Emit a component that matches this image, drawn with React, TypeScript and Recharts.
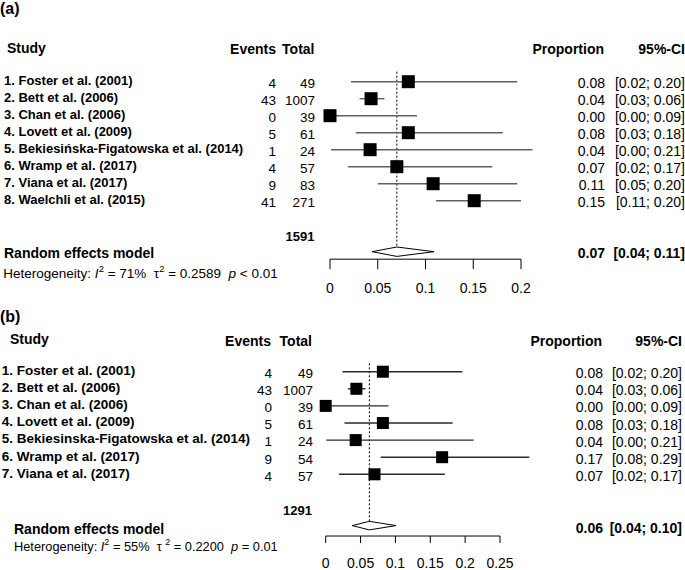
import React from 'react';
import { ComposedChart, XAxis, YAxis, Scatter, ErrorBar, ReferenceLine } from 'recharts';

const FONT = "'Liberation Sans', Arial, Helvetica, sans-serif";

// ---------- Panel (a) data ----------
const studiesA = [
  '1. Foster et al. (2001)',
  '2. Bett et al. (2006)',
  '3. Chan et al. (2006)',
  '4. Lovett et al. (2009)',
  '5. Bekiesińska-Figatowska et al. (2014)',
  '6. Wramp et al. (2017)',
  '7. Viana et al. (2017)',
  '8. Waelchli et al. (2015)',
];
const eventsA = [4, 43, 0, 5, 1, 4, 9, 41];
const totalsA = [49, 1007, 39, 61, 24, 57, 83, 271];
const propA = [0.082, 0.043, 0.0, 0.082, 0.042, 0.07, 0.108, 0.151];
const loA = [0.022, 0.031, 0.0, 0.027, 0.001, 0.019, 0.05, 0.111];
const hiA = [0.196, 0.057, 0.091, 0.181, 0.212, 0.17, 0.196, 0.2];
const propTxtA = ['0.08', '0.04', '0.00', '0.08', '0.04', '0.07', '0.11', '0.15'];
const ciTxtA = ['[0.02; 0.20]', '[0.03; 0.06]', '[0.00; 0.09]', '[0.03; 0.18]', '[0.00; 0.21]', '[0.02; 0.17]', '[0.05; 0.20]', '[0.11; 0.20]'];
const pooledA = [0.044, 0.07, 0.109]; // lower, estimate, upper
const pooledTxtA = ['0.07', '[0.04; 0.11]'];
const totalNA = 1591;
const hetA = ['71%', '0.2589', '< 0.01'];
const xTicksA = [0, 0.05, 0.1, 0.15, 0.2];

// ---------- Panel (b) data ----------
const studiesB = [
  '1. Foster et al. (2001)',
  '2. Bett et al. (2006)',
  '3. Chan et al. (2006)',
  '4. Lovett et al. (2009)',
  '5. Bekiesinska-Figatowska et al. (2014)',
  '6. Wramp et al. (2017)',
  '7. Viana et al. (2017)',
];
const eventsB = [4, 43, 0, 5, 1, 9, 4];
const totalsB = [49, 1007, 39, 61, 24, 54, 57];
const propB = [0.082, 0.044, 0.0, 0.082, 0.043, 0.167, 0.07];
const loB = [0.024, 0.032, 0.0, 0.027, 0.001, 0.079, 0.019];
const hiB = [0.196, 0.057, 0.09, 0.182, 0.212, 0.292, 0.171];
const propTxtB = ['0.08', '0.04', '0.00', '0.08', '0.04', '0.17', '0.07'];
const ciTxtB = ['[0.02; 0.20]', '[0.03; 0.06]', '[0.00; 0.09]', '[0.03; 0.18]', '[0.00; 0.21]', '[0.08; 0.29]', '[0.02; 0.17]'];
const pooledB = [0.038, 0.0626, 0.101];
const pooledTxtB = ['0.06', '[0.04; 0.10]'];
const totalNB = 1291;
const hetB = ['55%', '0.2200', '= 0.01'];
const xTicksB = [0, 0.05, 0.1, 0.15, 0.2, 0.25];

type Layout = {
  chartH: number; row1Y: number; rowStep: number; rMin: number; rMax: number;
  x0: number; ppu: number; xMin: number; xMax: number;
  labelRow: number; headerRow: number; totalRow: number; pooledRow: number;
  diamondH: number; refTop: number; refBottom: number;
  tickSize: number; tickMargin: number; boxSize: number; ciColor: string;
  studyX: number; studyHeaderX: number; eventsX: number; totalX: number;
  eventsHeaderX: number; totalHeaderX: number; totalNX: number;
  pooledX: number; pooledDy: number; pooledRDy: number; hetDy: number;
  hetX: number; hetSize: number; tauSep: string;
  propX: number; ciX: number; propHeaderX: number; ciHeaderX: number;
  labelSize: number; numSize: number;
};

const layoutA: Layout = {
  chartH: 298, row1Y: 81.7, rowStep: 17, rMin: -3.5, rMax: 11.44,
  x0: 330, ppu: 955, xMin: -0.0105, xMax: 0.22,
  labelRow: -3.3, headerRow: -1, totalRow: 10.12, pooledRow: 11,
  diamondH: 0.276, refTop: 0.41, refBottom: 10.72,
  tickSize: 10, tickMargin: 14, boxSize: 13, ciColor: '#606060',
  studyX: 4, studyHeaderX: 7, eventsX: 276, totalX: 315,
  eventsHeaderX: 276, totalHeaderX: 314.5, totalNX: 314.5,
  pooledX: 4, pooledDy: 1.5, pooledRDy: 1, hetDy: 21.6,
  hetX: 3.3, hetSize: 13.5, tauSep: '',
  propX: 605, ciX: 685, propHeaderX: 604, ciHeaderX: 685,
  labelSize: 13, numSize: 13.5,
};

const layoutB: Layout = {
  chartH: 272, row1Y: 73.7, rowStep: 17.1, rMin: -3, rMax: 10.61,
  x0: 325.7, ppu: 697.2, xMin: -0.012, xMax: 0.3,
  labelRow: -2.27, headerRow: -0.9, totalRow: 9.13, pooledRow: 10,
  diamondH: 0.25, refTop: 0.51, refBottom: 9.75,
  tickSize: 7, tickMargin: 15, boxSize: 12, ciColor: '#2a2a2a',
  studyX: 1.7, studyHeaderX: 10, eventsX: 272, totalX: 313,
  eventsHeaderX: 271, totalHeaderX: 312, totalNX: 312,
  pooledX: 14, pooledDy: 3.7, pooledRDy: 2, hetDy: 20.4,
  hetX: 14, hetSize: 12.8, tauSep: ' ',
  propX: 603, ciX: 682, propHeaderX: 602, ciHeaderX: 682,
  labelSize: 13.5, numSize: 13.5,
};

type PanelData = {
  tag: string; studies: string[]; events: number[]; totals: number[];
  prop: number[]; lo: number[]; hi: number[]; propTxt: string[]; ciTxt: string[];
  pooled: number[]; pooledTxt: string[]; totalN: number; het: string[]; xTicks: number[];
};

const dataA: PanelData = {
  tag: '(a)', studies: studiesA, events: eventsA, totals: totalsA, prop: propA, lo: loA, hi: hiA,
  propTxt: propTxtA, ciTxt: ciTxtA, pooled: pooledA, pooledTxt: pooledTxtA, totalN: totalNA, het: hetA, xTicks: xTicksA,
};
const dataB: PanelData = {
  tag: '(b)', studies: studiesB, events: eventsB, totals: totalsB, prop: propB, lo: loB, hi: hiB,
  propTxt: propTxtB, ciTxt: ciTxtB, pooled: pooledB, pooledTxt: pooledTxtB, totalN: totalNB, het: hetB, xTicks: xTicksB,
};

const near = (a: number, b: number) => Math.abs(a - b) < 1e-6;

function LeftTick(props: any) {
  const { y, payload, d, L } = props as { y: number; payload: any; d: PanelData; L: Layout };
  const v = payload.value;
  const common = { fontFamily: FONT, fill: '#000' };
  if (near(v, L.labelRow)) {
    return <text x={0} y={y} dy="0.36em" fontSize={16} fontWeight="bold" {...common}>{d.tag}</text>;
  }
  if (near(v, L.headerRow)) {
    return (
      <g>
        <text x={L.studyHeaderX} y={y} dy="0.36em" fontSize={14} fontWeight="bold" {...common}>Study</text>
        <text x={L.eventsHeaderX} y={y + 1.5} dy="0.36em" fontSize={14} fontWeight="bold" textAnchor="end" {...common}>Events</text>
        <text x={L.totalHeaderX} y={y + 1.5} dy="0.36em" fontSize={14} fontWeight="bold" textAnchor="end" {...common}>Total</text>
      </g>
    );
  }
  if (near(v, L.totalRow)) {
    return <text x={L.totalNX} y={y} dy="0.36em" fontSize={13} fontWeight="bold" textAnchor="end" {...common}>{d.totalN}</text>;
  }
  if (near(v, L.pooledRow)) {
    const hy = y + L.hetDy;
    const fs = L.hetSize;
    const sup = fs * 0.7;
    return (
      <g>
        <text x={L.pooledX} y={y + L.pooledDy} dy="0.36em" fontSize={14} fontWeight="bold" {...common}>Random effects model</text>
        <text x={L.hetX} y={hy} dy="0.36em" fontSize={fs} {...common} style={{ whiteSpace: 'pre' }}>
          <tspan>{'Heterogeneity: '}</tspan>
          <tspan fontStyle="italic">I</tspan>
          <tspan dy={-6} fontSize={sup}>2</tspan>
          <tspan dy={6}>{' = ' + d.het[0] + '  τ' + L.tauSep}</tspan>
          <tspan dy={-6} fontSize={sup}>2</tspan>
          <tspan dy={6}>{' = ' + d.het[1] + '  '}</tspan>
          <tspan fontStyle="italic">p</tspan>
          <tspan>{' ' + d.het[2]}</tspan>
        </text>
      </g>
    );
  }
  const i = Math.round(v) - 1;
  if (i < 0 || i >= d.studies.length) return <g />;
  return (
    <g>
      <text x={L.studyX} y={y - 1.5} dy="0.36em" fontSize={L.labelSize} fontWeight="bold" {...common}>{d.studies[i]}</text>
      <text x={L.eventsX} y={y + 1.5} dy="0.36em" fontSize={L.numSize} textAnchor="end" {...common}>{d.events[i]}</text>
      <text x={L.totalX} y={y + 1.5} dy="0.36em" fontSize={L.numSize} textAnchor="end" {...common}>{d.totals[i]}</text>
    </g>
  );
}

function RightTick(props: any) {
  const { y, payload, d, L } = props as { y: number; payload: any; d: PanelData; L: Layout };
  const v = payload.value;
  const common = { fontFamily: FONT, fill: '#000' };
  if (near(v, L.headerRow)) {
    return (
      <g>
        <text x={L.propHeaderX} y={y + 1.5} dy="0.36em" fontSize={14} fontWeight="bold" textAnchor="end" {...common}>Proportion</text>
        <text x={L.ciHeaderX} y={y + 1.5} dy="0.36em" fontSize={14} fontWeight="bold" textAnchor="end" {...common}>95%-CI</text>
      </g>
    );
  }
  if (near(v, L.pooledRow)) {
    return (
      <g>
        <text x={L.propX} y={y + L.pooledRDy} dy="0.36em" fontSize={14} fontWeight="bold" textAnchor="end" {...common}>{d.pooledTxt[0]}</text>
        <text x={L.ciX} y={y + L.pooledRDy} dy="0.36em" fontSize={14} fontWeight="bold" textAnchor="end" {...common}>{d.pooledTxt[1]}</text>
      </g>
    );
  }
  const i = Math.round(v) - 1;
  if (i < 0 || i >= d.studies.length) return <g />;
  return (
    <g>
      <text x={L.propX} y={y + 1.5} dy="0.36em" fontSize={14} textAnchor="end" {...common}>{d.propTxt[i]}</text>
      <text x={L.ciX} y={y + 1.5} dy="0.36em" fontSize={14} textAnchor="end" {...common}>{d.ciTxt[i]}</text>
    </g>
  );
}

function Panel({ d, L }: { d: PanelData; L: Layout }) {
  const marginTop = L.row1Y + (L.rMin - 1) * L.rowStep;
  const plotBottom = L.row1Y + (L.rMax - 1) * L.rowStep;
  const xAxisH = L.chartH - plotBottom;
  const plotLeft = L.x0 + L.xMin * L.ppu;
  const plotRight = L.x0 + L.xMax * L.ppu;

  const rows = d.studies.map((_, i) => ({
    x: d.prop[i],
    y: i + 1,
    err: [d.prop[i] - d.lo[i], d.hi[i] - d.prop[i]],
  }));
  const [pl, pe, ph] = d.pooled;
  const r = L.pooledRow;
  const diamond = [
    { x: pl, y: r }, { x: pe, y: r - L.diamondH }, { x: ph, y: r }, { x: pe, y: r + L.diamondH }, { x: pl, y: r },
  ];
  const studyRows = d.studies.map((_, i) => i + 1);
  const leftTicks = [L.labelRow, L.headerRow, ...studyRows, L.totalRow, L.pooledRow];
  const rightTicks = [L.headerRow, ...studyRows, L.pooledRow];
  const xEnd = d.xTicks[d.xTicks.length - 1];
  const bs = L.boxSize;

  return (
    <ComposedChart width={685} height={L.chartH} margin={{ top: marginTop, right: 0, bottom: 0, left: 0 }}>
      <XAxis
        xAxisId={0}
        type="number"
        dataKey="x"
        domain={[L.xMin, L.xMax]}
        allowDataOverflow
        ticks={d.xTicks}
        interval={0}
        tickFormatter={(v: number) => String(v)}
        axisLine={false}
        tickLine={{ stroke: '#000', strokeWidth: 1 }}
        tickSize={L.tickSize}
        tickMargin={L.tickMargin}
        height={xAxisH}
        tick={{ fontSize: 14, fill: '#000', fontFamily: FONT }}
      />
      <YAxis
        yAxisId="L"
        type="number"
        dataKey="y"
        domain={[L.rMin, L.rMax]}
        allowDataOverflow
        reversed
        ticks={leftTicks}
        interval={0}
        axisLine={false}
        tickLine={false}
        width={plotLeft}
        tick={(p: any) => <LeftTick {...p} d={d} L={L} />}
      />
      <YAxis
        yAxisId="R"
        orientation="right"
        type="number"
        dataKey="y"
        domain={[L.rMin, L.rMax]}
        allowDataOverflow
        reversed
        ticks={rightTicks}
        interval={0}
        axisLine={false}
        tickLine={false}
        width={685 - plotRight}
        tick={(p: any) => <RightTick {...p} d={d} L={L} />}
      />
      <ReferenceLine
        yAxisId="L"
        segment={[{ x: pe, y: L.refTop }, { x: pe, y: L.refBottom }]}
        stroke="#000"
        strokeDasharray="2 2"
        ifOverflow="visible"
      />
      <ReferenceLine
        yAxisId="L"
        segment={[{ x: d.xTicks[0], y: L.rMax }, { x: xEnd, y: L.rMax }]}
        stroke="#000"
        strokeWidth={1}
        ifOverflow="visible"
      />
      <Scatter
        yAxisId="L"
        data={rows}
        isAnimationActive={false}
        fill="#000"
        shape={(p: any) => (
          <rect x={p.cx - bs / 2} y={p.cy - bs / 2} width={bs} height={bs} fill="#000" />
        )}
      >
        <ErrorBar dataKey="err" direction="x" width={0} stroke={L.ciColor} strokeWidth={1.4} isAnimationActive={false} />
      </Scatter>
      <Scatter
        yAxisId="L"
        data={diamond}
        isAnimationActive={false}
        fill="none"
        line={{ stroke: '#000', strokeWidth: 1 }}
        lineType="joint"
        shape={() => <g />}
      />
    </ComposedChart>
  );
}

export default function App() {
  return (
    <div style={{ position: 'absolute', left: 0, top: 0, width: 685, height: 570, background: '#fff' }}>
      <Panel d={dataA} L={layoutA} />
      <Panel d={dataB} L={layoutB} />
    </div>
  );
}
